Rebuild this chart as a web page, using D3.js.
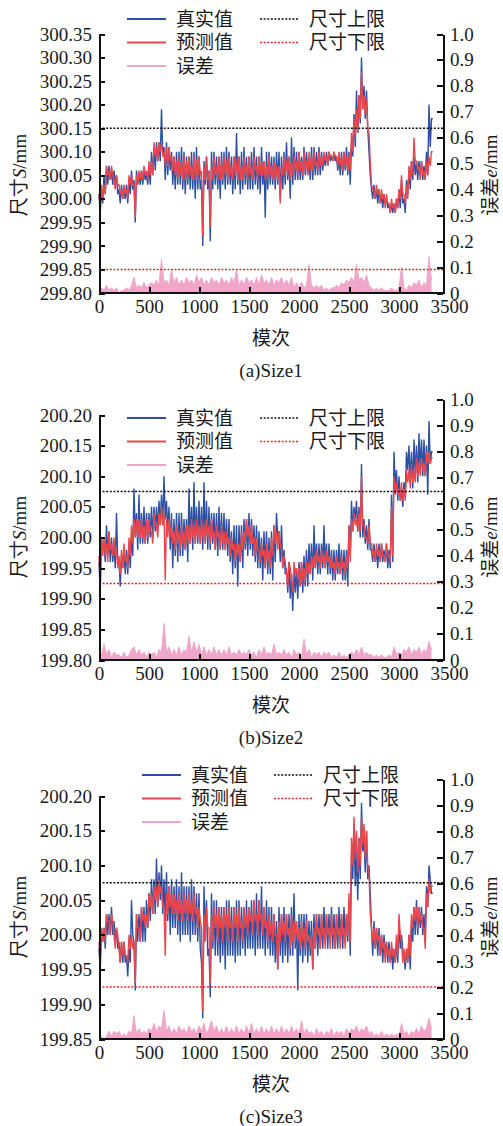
<!DOCTYPE html>
<html lang="zh">
<head>
<meta charset="utf-8">
<title>size prediction</title>
<script src="https://d3js.org/d3.v7.min.js"></script>
<style>
  body { margin: 0; background: #fff; }
  svg text { font-family: "Liberation Serif", "Times New Roman", serif; fill: #1a1a1a; }
  svg .cn { font-family: "Noto Sans CJK SC", sans-serif; }
  .axis path, .axis line { stroke: #111; stroke-width: 2; shape-rendering: crispEdges; }
</style>
</head>
<body>
<svg id="chart"></svg>
<script>
// ---------------- data ----------------
// two readings per 25-mould window: the main one and the "Mid" one (half a window later)
const moldStep = 25;
const xTicks = [0, 500, 1000, 1500, 2000, 2500, 3000, 3500];
const errTicks = [0, 0.1, 0.2, 0.3, 0.4, 0.5, 0.6, 0.7, 0.8, 0.9, 1.0];
const legendNames = ["真实值", "预测值", "误差", "尺寸上限", "尺寸下限"];

// Size1
const s1Ticks = [299.80, 299.85, 299.90, 299.95, 300.00, 300.05, 300.10, 300.15, 300.20, 300.25, 300.30, 300.35];
const s1Upper = 300.15, s1Lower = 299.85;
const s1True = [
  299.97, 300.02, 300.01, 300.07, 300.04, 300.06, 300.03, 300.05, 299.99, 300.03,
  300.00, 300.03, 300.01, 300.06, 299.95, 300.06, 300.03, 300.06, 300.04, 300.05,
  300.03, 300.10, 300.06, 300.12, 300.08, 300.19, 300.04, 300.12, 300.06, 300.10,
  300.02, 300.10, 300.03, 300.11, 300.01, 300.09, 300.02, 300.10, 300.00, 300.11,
  300.02, 299.90, 300.08, 300.02, 299.91, 300.10, 300.03, 300.09, 300.00, 300.10,
  300.02, 300.11, 300.03, 300.09, 300.02, 300.14, 300.01, 300.10, 300.03, 300.09,
  300.02, 300.10, 300.03, 300.09, 300.01, 300.11, 299.96, 300.10, 300.03, 300.09,
  300.02, 300.10, 300.00, 300.09, 300.03, 300.12, 300.00, 300.13, 300.04, 300.10,
  300.04, 300.09, 300.05, 300.10, 300.04, 300.11, 300.05, 300.10, 300.05, 300.10,
  300.07, 300.10, 300.08, 300.09, 300.08, 300.09, 300.05, 300.10, 300.06, 300.11,
  300.03, 300.12, 300.11, 300.23, 300.16, 300.30, 300.17, 300.23, 300.10, 300.00,
  300.03, 299.99, 300.02, 299.98, 300.01, 299.98, 299.97, 299.99, 299.97, 300.00,
  299.98, 300.04, 299.97, 300.01, 300.06, 300.04, 300.09, 300.04, 300.08, 300.04,
  300.07, 300.05, 300.20, 300.17
];
const s1TrueMid = [
  300.01, 299.99, 300.05, 300.03, 300.07, 300.03, 300.06, 300.01, 300.02, 300.00,
  300.02, 299.99, 300.04, 300.02, 300.04, 300.03, 300.05, 300.03, 300.06, 300.03,
  300.07, 300.05, 300.11, 300.08, 300.12, 300.09, 300.11, 300.05, 300.11, 300.03,
  300.09, 300.03, 300.10, 300.02, 300.10, 300.03, 300.09, 300.02, 300.10, 300.02,
  300.09, 300.04, 300.03, 300.09, 300.06, 300.02, 300.10, 300.02, 300.09, 300.03,
  300.10, 300.03, 300.10, 300.01, 300.09, 300.03, 300.09, 300.02, 300.11, 300.02,
  300.09, 300.02, 300.11, 300.02, 300.09, 300.03, 300.08, 300.02, 300.10, 300.03,
  300.09, 300.03, 300.10, 300.02, 300.10, 300.04, 300.09, 300.03, 300.11, 300.04,
  300.10, 300.04, 300.11, 300.05, 300.09, 300.04, 300.11, 300.05, 300.11, 300.06,
  300.09, 300.07, 300.10, 300.08, 300.10, 300.06, 300.09, 300.05, 300.10, 300.05,
  300.10, 300.09, 300.18, 300.14, 300.22, 300.19, 300.24, 300.15, 300.05, 300.02,
  300.00, 300.02, 299.99, 300.01, 299.99, 300.00, 299.99, 299.97, 299.99, 299.98,
  300.02, 299.99, 300.00, 300.04, 300.02, 300.08, 300.05, 300.08, 300.05, 300.08,
  300.04, 300.10, 300.11
];
const s1Pred = [
  299.98, 300.00, 300.03, 300.05, 300.06, 300.05, 300.04, 300.05, 300.01, 300.02,
  300.01, 300.02, 300.03, 300.05, 299.96, 300.05, 300.04, 300.06, 300.05, 300.06,
  300.05, 300.08, 300.09, 300.11, 300.10, 300.12, 300.07, 300.11, 300.08, 300.09,
  300.05, 300.08, 300.05, 300.08, 300.04, 300.08, 300.05, 300.07, 300.04, 300.08,
  300.05, 299.92, 300.07, 300.04, 299.94, 300.07, 300.05, 300.07, 300.04, 300.08,
  300.05, 300.08, 300.05, 300.07, 300.05, 300.08, 300.04, 300.07, 300.05, 300.07,
  300.05, 300.07, 300.06, 300.07, 300.05, 300.08, 300.04, 300.07, 300.05, 300.07,
  300.04, 300.07, 299.99, 300.07, 300.05, 300.08, 300.04, 300.08, 300.06, 300.08,
  300.06, 300.08, 300.06, 300.08, 300.06, 300.09, 300.07, 300.08, 300.07, 300.09,
  300.08, 300.09, 300.09, 300.09, 300.09, 300.09, 300.07, 300.09, 300.07, 300.09,
  300.06, 300.10, 300.13, 300.19, 300.17, 300.27, 300.18, 300.21, 300.14, 300.02,
  300.02, 300.01, 300.02, 300.00, 300.01, 299.99, 299.99, 299.98, 299.99, 300.00,
  300.00, 300.05, 299.99, 300.00, 300.04, 300.05, 300.13, 300.06, 300.07, 300.05,
  300.06, 300.05, 300.09, 300.10
];
const s1PredMid = [
  300.01, 300.03, 300.01, 300.07, 300.04, 300.07, 300.02, 300.03, 300.03, 300.00,
  300.03, 300.00, 300.05, 300.03, 300.03, 300.03, 300.06, 300.04, 300.07, 300.04,
  300.08, 300.05, 300.12, 300.08, 300.12, 300.09, 300.10, 300.07, 300.11, 300.06,
  300.09, 300.04, 300.09, 300.04, 300.09, 300.04, 300.09, 300.04, 300.09, 300.04,
  300.09, 300.06, 300.04, 300.09, 300.06, 300.04, 300.09, 300.04, 300.09, 300.04,
  300.09, 300.04, 300.09, 300.04, 300.09, 300.04, 300.09, 300.04, 300.09, 300.04,
  300.09, 300.04, 300.09, 300.04, 300.09, 300.05, 300.08, 300.04, 300.09, 300.04,
  300.08, 300.04, 300.07, 300.05, 300.09, 300.05, 300.09, 300.05, 300.09, 300.05,
  300.10, 300.05, 300.10, 300.05, 300.10, 300.06, 300.10, 300.06, 300.10, 300.07,
  300.10, 300.07, 300.10, 300.08, 300.10, 300.07, 300.10, 300.06, 300.10, 300.06,
  300.09, 300.14, 300.17, 300.14, 300.22, 300.19, 300.22, 300.15, 300.08, 300.03,
  300.00, 300.03, 299.99, 300.02, 299.98, 300.01, 299.97, 300.00, 299.97, 299.98,
  300.02, 300.01, 300.01, 300.03, 300.07, 300.08, 300.08, 300.08, 300.04, 300.08,
  300.04, 300.08, 300.07
];
const s1Err = [
  0.01, 0.02, 0.01, 0.03, 0.01, 0.02, 0.01, 0.02, 0.00, 0.01,
  0.01, 0.02, 0.01, 0.03, 0.06, 0.02, 0.03, 0.02, 0.04, 0.02,
  0.03, 0.04, 0.03, 0.05, 0.03, 0.13, 0.04, 0.05, 0.03, 0.09,
  0.04, 0.06, 0.03, 0.05, 0.03, 0.06, 0.04, 0.05, 0.03, 0.07,
  0.04, 0.06, 0.03, 0.05, 0.03, 0.06, 0.04, 0.05, 0.03, 0.06,
  0.04, 0.05, 0.03, 0.06, 0.04, 0.09, 0.03, 0.05, 0.03, 0.06,
  0.04, 0.05, 0.03, 0.06, 0.03, 0.07, 0.04, 0.05, 0.03, 0.06,
  0.03, 0.05, 0.04, 0.06, 0.03, 0.05, 0.03, 0.06, 0.02, 0.04,
  0.02, 0.04, 0.02, 0.03, 0.11, 0.03, 0.02, 0.03, 0.02, 0.03,
  0.01, 0.02, 0.01, 0.02, 0.02, 0.03, 0.02, 0.04, 0.03, 0.05,
  0.04, 0.06, 0.04, 0.11, 0.05, 0.06, 0.04, 0.07, 0.03, 0.02,
  0.01, 0.02, 0.01, 0.02, 0.01, 0.01, 0.01, 0.02, 0.01, 0.01,
  0.02, 0.10, 0.02, 0.01, 0.03, 0.02, 0.04, 0.03, 0.05, 0.02,
  0.04, 0.03, 0.14, 0.05
];

// Size2
const s2Ticks = [199.80, 199.85, 199.90, 199.95, 200.00, 200.05, 200.10, 200.15, 200.20];
const s2Upper = 200.075, s2Lower = 199.925;
const s2True = [
  199.91, 199.98, 199.96, 200.02, 199.96, 200.00, 199.95, 200.04, 199.92, 199.97,
  199.94, 199.98, 199.95, 200.00, 200.08, 199.98, 200.07, 199.99, 200.05, 199.99,
  200.04, 200.00, 200.05, 200.01, 200.06, 200.02, 200.10, 200.01, 200.05, 199.95,
  200.03, 199.96, 200.04, 199.97, 200.03, 199.96, 200.08, 199.98, 200.09, 199.99,
  200.06, 199.98, 200.09, 199.98, 200.05, 199.99, 200.04, 199.97, 200.05, 199.98,
  200.04, 199.97, 200.03, 199.94, 200.02, 199.92, 200.02, 199.95, 200.03, 199.97,
  200.04, 199.97, 200.02, 199.95, 200.01, 199.93, 200.01, 199.94, 200.00, 199.93,
  200.02, 200.04, 199.96, 200.02, 199.94, 199.91, 199.96, 199.88, 199.95, 199.90,
  199.96, 199.91, 199.97, 199.92, 199.99, 199.93, 200.02, 199.94, 199.99, 199.95,
  200.02, 199.94, 199.99, 199.93, 199.98, 199.94, 199.99, 199.93, 199.98, 199.92,
  199.97, 200.06, 200.03, 200.06, 200.00, 200.12, 199.99, 200.02, 200.03, 199.96,
  199.99, 199.95, 199.99, 199.96, 199.98, 199.95, 199.98, 199.96, 200.14, 200.06,
  200.10, 200.05, 200.09, 200.11, 200.15, 200.08, 200.16, 200.09, 200.17, 200.10,
  200.16, 200.07, 200.19, 200.14
];
const s2TrueMid = [
  199.96, 200.00, 199.99, 199.97, 200.01, 199.96, 199.99, 199.96, 199.96, 199.95,
  199.98, 199.94, 199.99, 199.97, 200.00, 200.04, 199.99, 200.04, 199.99, 200.04,
  200.00, 200.05, 200.01, 200.05, 200.02, 200.07, 200.03, 200.06, 199.98, 200.04,
  199.97, 200.04, 199.97, 200.04, 199.98, 200.03, 199.99, 200.05, 199.99, 200.05,
  199.99, 200.05, 199.99, 200.06, 199.98, 200.04, 199.98, 200.04, 199.98, 200.04,
  199.98, 200.03, 199.96, 200.01, 199.95, 200.02, 199.96, 200.02, 199.98, 200.03,
  199.98, 200.03, 199.96, 200.02, 199.95, 200.00, 199.95, 200.01, 199.94, 200.01,
  199.96, 200.00, 200.01, 199.95, 199.98, 199.95, 199.90, 199.94, 199.91, 199.95,
  199.92, 199.96, 199.92, 199.98, 199.94, 199.99, 199.95, 199.99, 199.94, 199.99,
  199.95, 199.99, 199.94, 199.98, 199.93, 199.98, 199.94, 199.98, 199.93, 199.98,
  200.02, 200.01, 200.05, 200.01, 200.05, 200.00, 200.03, 199.98, 199.98, 199.98,
  199.96, 199.98, 199.96, 199.99, 199.96, 199.99, 199.95, 200.07, 200.08, 200.11,
  200.06, 200.08, 200.07, 200.14, 200.09, 200.14, 200.10, 200.15, 200.11, 200.16,
  200.10, 200.15, 200.12
];
const s2Pred = [
  199.93, 199.97, 200.00, 199.99, 199.98, 199.99, 199.97, 199.98, 199.94, 199.95,
  199.96, 199.97, 199.97, 199.99, 200.03, 200.00, 200.03, 200.00, 200.02, 200.00,
  200.01, 200.01, 200.02, 200.02, 200.04, 200.02, 199.93, 200.03, 200.03, 199.99,
  200.01, 199.99, 200.01, 199.99, 200.01, 199.99, 200.02, 200.00, 200.02, 200.00,
  200.02, 200.00, 200.02, 200.00, 200.02, 200.00, 200.01, 200.00, 200.01, 199.99,
  200.01, 199.99, 200.00, 199.98, 199.99, 199.97, 199.99, 199.98, 200.01, 200.00,
  200.02, 199.99, 200.00, 199.98, 199.98, 199.97, 199.98, 199.96, 199.98, 199.97,
  199.99, 200.01, 199.99, 199.98, 199.96, 199.94, 199.95, 199.93, 199.94, 199.93,
  199.95, 199.93, 199.95, 199.94, 199.96, 199.95, 199.97, 199.96, 199.97, 199.96,
  199.97, 199.96, 199.97, 199.95, 199.96, 199.95, 199.96, 199.95, 199.96, 199.95,
  199.96, 200.03, 200.02, 200.03, 200.01, 200.10, 200.00, 200.00, 200.02, 199.97,
  199.98, 199.97, 199.98, 199.97, 199.97, 199.97, 199.97, 199.97, 200.10, 200.07,
  200.08, 200.06, 200.08, 200.09, 200.11, 200.09, 200.11, 200.10, 200.12, 200.11,
  200.12, 200.12, 200.14, 200.13
];
const s2PredMid = [
  199.97, 200.00, 199.97, 199.96, 200.01, 199.97, 200.00, 199.95, 199.97, 199.98,
  199.99, 199.95, 200.00, 200.02, 200.00, 200.03, 200.00, 200.03, 199.99, 200.03,
  200.03, 199.99, 200.04, 200.00, 200.02, 200.05, 200.04, 200.00, 200.00, 200.02,
  199.98, 200.02, 199.98, 200.02, 199.98, 200.02, 199.99, 200.03, 199.99, 200.03,
  199.99, 200.03, 199.99, 200.03, 199.99, 200.03, 199.98, 200.02, 199.98, 200.02,
  199.98, 200.01, 199.97, 200.00, 199.96, 199.99, 199.96, 200.01, 199.99, 200.03,
  199.99, 200.02, 199.97, 200.00, 199.96, 199.99, 199.95, 199.99, 199.95, 200.00,
  200.02, 199.98, 200.01, 199.95, 199.97, 199.92, 199.96, 199.91, 199.96, 199.95,
  199.92, 199.96, 199.93, 199.96, 199.94, 199.97, 199.95, 199.98, 199.95, 199.98,
  199.95, 199.98, 199.95, 199.97, 199.94, 199.97, 199.94, 199.97, 199.94, 199.97,
  200.02, 200.01, 200.04, 200.01, 200.04, 200.02, 200.02, 199.99, 199.99, 199.99,
  199.96, 199.99, 199.96, 199.99, 199.96, 199.99, 199.96, 200.05, 200.07, 200.09,
  200.06, 200.09, 200.06, 200.11, 200.08, 200.12, 200.09, 200.13, 200.10, 200.13,
  200.10, 200.14, 200.12
];
const s2Err = [
  0.04, 0.02, 0.06, 0.02, 0.04, 0.01, 0.03, 0.02, 0.02, 0.01,
  0.03, 0.01, 0.02, 0.04, 0.05, 0.02, 0.04, 0.02, 0.03, 0.01,
  0.03, 0.02, 0.03, 0.01, 0.04, 0.03, 0.14, 0.03, 0.05, 0.02,
  0.04, 0.02, 0.05, 0.02, 0.04, 0.03, 0.09, 0.03, 0.07, 0.03,
  0.06, 0.02, 0.05, 0.02, 0.04, 0.02, 0.05, 0.02, 0.04, 0.02,
  0.04, 0.02, 0.05, 0.02, 0.03, 0.02, 0.04, 0.02, 0.03, 0.02,
  0.04, 0.02, 0.03, 0.01, 0.04, 0.02, 0.05, 0.02, 0.03, 0.02,
  0.06, 0.02, 0.03, 0.02, 0.04, 0.02, 0.03, 0.01, 0.04, 0.02,
  0.03, 0.01, 0.08, 0.02, 0.04, 0.01, 0.03, 0.02, 0.03, 0.01,
  0.03, 0.02, 0.03, 0.01, 0.02, 0.01, 0.03, 0.01, 0.02, 0.01,
  0.02, 0.03, 0.02, 0.04, 0.02, 0.05, 0.02, 0.03, 0.02, 0.02,
  0.01, 0.02, 0.01, 0.02, 0.01, 0.01, 0.02, 0.01, 0.05, 0.02,
  0.03, 0.02, 0.04, 0.03, 0.05, 0.02, 0.04, 0.03, 0.05, 0.02,
  0.04, 0.03, 0.07, 0.04
];

// Size3
const s3Ticks = [199.85, 199.90, 199.95, 200.00, 200.05, 200.10, 200.15, 200.20];
const s3Upper = 200.075, s3Lower = 199.925;
const s3True = [
  199.95, 199.99, 199.98, 200.03, 200.00, 200.04, 199.99, 200.01, 199.96, 199.99,
  199.96, 199.94, 199.98, 200.05, 199.92, 200.03, 199.99, 200.04, 199.99, 200.05,
  200.02, 200.08, 200.03, 200.11, 200.05, 200.10, 200.02, 200.09, 200.00, 200.08,
  200.01, 200.08, 199.99, 200.09, 200.00, 200.07, 199.99, 200.08, 200.00, 200.06,
  199.98, 199.88, 200.07, 199.97, 199.91, 200.06, 199.97, 200.05, 199.96, 200.04,
  199.95, 200.05, 199.97, 200.04, 199.96, 200.05, 199.97, 200.04, 199.97, 200.05,
  199.98, 200.05, 199.97, 200.06, 199.98, 200.07, 199.97, 200.05, 199.97, 200.04,
  199.96, 199.95, 200.04, 199.96, 200.04, 199.96, 200.03, 199.97, 200.06, 199.92,
  200.03, 199.96, 200.03, 199.96, 200.02, 199.95, 200.03, 199.97, 200.03, 199.98,
  200.04, 199.98, 200.03, 199.98, 200.03, 199.98, 200.04, 199.98, 200.04, 199.99,
  199.97, 200.08, 200.16, 200.05, 200.14, 200.19, 200.09, 200.15, 200.06, 199.97,
  200.02, 199.97, 200.01, 199.96, 200.00, 199.96, 199.99, 199.95, 199.98, 199.96,
  200.02, 199.98, 199.95, 199.98, 199.95, 200.02, 200.00, 200.05, 200.01, 200.04,
  199.99, 200.07, 200.10, 200.06
];
const s3TrueMid = [
  199.98, 200.01, 200.01, 200.00, 200.03, 200.00, 200.02, 199.98, 199.99, 199.96,
  199.99, 199.97, 199.96, 200.00, 199.99, 199.99, 200.03, 199.99, 200.04, 200.01,
  200.06, 200.03, 200.08, 200.04, 200.09, 200.03, 200.08, 200.02, 200.07, 200.01,
  200.07, 200.00, 200.07, 200.00, 200.07, 200.00, 200.07, 200.00, 200.07, 199.99,
  200.06, 199.96, 200.00, 200.05, 199.98, 199.98, 200.05, 199.97, 200.04, 199.97,
  200.04, 199.97, 200.05, 199.97, 200.04, 199.97, 200.05, 199.98, 200.04, 199.98,
  200.04, 199.98, 200.05, 199.98, 200.05, 199.98, 200.04, 199.98, 200.04, 199.97,
  200.03, 200.02, 199.97, 200.03, 199.97, 200.03, 199.97, 200.04, 199.98, 200.02,
  199.97, 200.03, 199.97, 200.03, 199.97, 200.02, 199.98, 200.03, 199.98, 200.03,
  199.99, 200.03, 199.99, 200.04, 199.98, 200.03, 199.99, 200.03, 199.99, 200.03,
  200.05, 200.12, 200.07, 200.12, 200.08, 200.12, 200.14, 200.08, 200.10, 200.01,
  199.98, 200.01, 199.97, 200.00, 199.97, 199.99, 199.96, 199.98, 199.96, 199.99,
  199.98, 200.00, 199.97, 199.96, 200.00, 199.99, 200.04, 200.00, 200.04, 200.00,
  200.03, 200.04, 200.08
];
const s3Pred = [
  199.96, 199.99, 200.01, 200.02, 200.02, 200.02, 200.00, 200.00, 199.98, 199.97,
  199.97, 199.97, 199.98, 200.00, 199.93, 200.01, 200.01, 200.02, 200.01, 200.03,
  200.04, 200.06, 200.05, 200.07, 200.06, 200.07, 199.97, 200.06, 200.04, 200.06,
  200.03, 200.05, 200.03, 200.05, 200.03, 200.05, 200.03, 200.05, 200.03, 200.04,
  200.02, 199.89, 200.03, 200.01, 199.93, 200.03, 200.01, 200.03, 200.01, 200.03,
  200.01, 200.03, 200.01, 200.02, 200.01, 200.03, 200.01, 200.02, 200.01, 200.03,
  200.02, 200.03, 200.02, 200.03, 200.02, 200.03, 200.01, 200.02, 200.00, 200.02,
  200.00, 199.95, 200.02, 200.00, 200.02, 200.00, 200.01, 199.99, 200.02, 199.99,
  200.01, 199.99, 200.01, 199.99, 200.00, 199.95, 200.01, 200.00, 200.01, 200.00,
  200.01, 200.00, 200.01, 200.00, 200.01, 200.00, 200.01, 200.00, 200.01, 200.00,
  199.99, 200.10, 200.17, 200.09, 200.14, 200.17, 200.11, 200.15, 200.09, 199.99,
  200.01, 199.99, 200.00, 199.98, 199.99, 199.97, 199.98, 199.97, 199.98, 199.97,
  200.03, 199.99, 199.96, 199.98, 199.97, 200.03, 200.02, 200.04, 200.02, 200.03,
  199.98, 200.04, 200.06, 200.07
];
const s3PredMid = [
  199.99, 200.01, 199.99, 200.03, 200.00, 200.03, 199.98, 200.01, 199.96, 199.99,
  199.99, 199.96, 200.00, 199.98, 199.99, 200.03, 199.99, 200.04, 200.03, 200.01,
  200.06, 200.03, 200.07, 200.04, 200.08, 200.04, 200.04, 200.03, 200.07, 200.03,
  200.06, 200.02, 200.06, 200.02, 200.06, 200.02, 200.06, 200.02, 200.06, 200.01,
  200.04, 200.01, 199.99, 200.04, 200.01, 199.99, 200.04, 199.99, 200.04, 199.99,
  200.04, 199.99, 200.04, 199.99, 200.04, 199.99, 200.04, 199.99, 200.04, 200.00,
  200.04, 200.00, 200.05, 200.00, 200.05, 200.00, 200.04, 199.99, 200.03, 199.99,
  200.03, 200.00, 199.99, 200.03, 199.99, 200.03, 199.98, 200.03, 199.99, 200.02,
  199.98, 200.02, 199.98, 200.02, 199.98, 200.00, 199.98, 200.03, 199.98, 200.03,
  199.98, 200.03, 199.98, 200.03, 199.98, 200.03, 199.98, 200.03, 199.98, 200.03,
  200.06, 200.14, 200.11, 200.15, 200.10, 200.13, 200.16, 200.10, 200.03, 200.01,
  199.98, 200.01, 199.97, 200.00, 199.96, 199.99, 199.96, 199.99, 199.96, 200.00,
  200.00, 199.96, 199.98, 199.96, 200.00, 200.01, 200.04, 200.01, 200.04, 200.01,
  200.01, 200.06, 200.08
];
const s3Err = [
  0.00, 0.01, 0.00, 0.01, 0.03, 0.01, 0.03, 0.02, 0.03, 0.01,
  0.02, 0.01, 0.03, 0.02, 0.09, 0.02, 0.04, 0.02, 0.03, 0.02,
  0.04, 0.03, 0.06, 0.03, 0.05, 0.04, 0.11, 0.03, 0.05, 0.02,
  0.04, 0.02, 0.05, 0.03, 0.04, 0.02, 0.05, 0.03, 0.04, 0.02,
  0.05, 0.03, 0.06, 0.02, 0.04, 0.07, 0.03, 0.05, 0.02, 0.04,
  0.02, 0.05, 0.02, 0.04, 0.02, 0.05, 0.02, 0.04, 0.02, 0.05,
  0.02, 0.06, 0.02, 0.04, 0.02, 0.05, 0.02, 0.04, 0.02, 0.05,
  0.02, 0.04, 0.02, 0.05, 0.02, 0.04, 0.02, 0.05, 0.02, 0.04,
  0.02, 0.07, 0.02, 0.04, 0.02, 0.03, 0.01, 0.04, 0.02, 0.03,
  0.01, 0.03, 0.02, 0.04, 0.01, 0.03, 0.02, 0.03, 0.01, 0.04,
  0.02, 0.04, 0.03, 0.05, 0.02, 0.04, 0.03, 0.05, 0.02, 0.03,
  0.01, 0.02, 0.01, 0.03, 0.01, 0.02, 0.01, 0.02, 0.01, 0.02,
  0.01, 0.06, 0.02, 0.03, 0.01, 0.03, 0.02, 0.04, 0.02, 0.05,
  0.03, 0.04, 0.08, 0.04
];

// ---------------- layout ----------------
const blue = "#2c4fa3", red = "#e8474d", pink = "#f0a6c8";
const W = 503, H = 1126;
const axisL = 99, axisR = 443;
const serif = "'Liberation Serif', 'Times New Roman', serif";

// the two readings of each window, drawn high then low so the trace fills its band
function zigzag(main, mid) {
  const out = [];
  main.forEach((v, i) => {
    const w = i < mid.length ? mid[i] : v;
    out.push({ m: i * moldStep, v: Math.max(v, w) });
    out.push({ m: i * moldStep + moldStep / 2, v: Math.min(v, w) });
  });
  return out;
}

const panels = [
  { tv: zigzag(s1True, s1TrueMid), pv: zigzag(s1Pred, s1PredMid), ev: s1Err, ticks: s1Ticks,
    up: s1Upper, lo: s1Lower, cap: "(a)Size1",
    top: 34, bottom: 293, rTop: 34, legY: 19, legX: 127, leg2X: 260, mid: 175 },
  { tv: zigzag(s2True, s2TrueMid), pv: zigzag(s2Pred, s2PredMid), ev: s2Err, ticks: s2Ticks,
    up: s2Upper, lo: s2Lower, cap: "(b)Size2",
    top: 415, bottom: 660, rTop: 399, legY: 418, legX: 127, leg2X: 260, mid: 537 },
  { tv: zigzag(s3True, s3TrueMid), pv: zigzag(s3Pred, s3PredMid), ev: s3Err, ticks: s3Ticks,
    up: s3Upper, lo: s3Lower, cap: "(c)Size3",
    top: 796, bottom: 1039, rTop: 779, legY: 775, legX: 142, leg2X: 274, mid: 917 }
];

const svg = d3.select("#chart").attr("width", W).attr("height", H);
const xScale = d3.scaleLinear().domain([0, 3500]).range([99, 449]);

panels.forEach(p => drawPanel(p));

function drawPanel(p) {
  const g = svg.append("g");
  const yL = d3.scaleLinear().domain([p.ticks[0], p.ticks[p.ticks.length - 1]]).range([p.bottom, p.top]);
  const yR = d3.scaleLinear().domain([0, 1]).range([p.bottom, p.rTop]);
  const xi = (d, i) => xScale(i * moldStep);

  // error (right axis)
  g.append("path")
    .attr("d", d3.area().x(xi).y0(yR(0)).y1(d => yR(d))(p.ev))
    .attr("fill", pink);
  g.append("path")
    .attr("d", d3.line().x(xi).y(d => yR(d))(p.ev))
    .attr("fill", "none").attr("stroke", pink).attr("stroke-width", 1);

  // true & predicted
  const ln = d3.line().x(d => xScale(d.m)).y(d => yL(d.v));
  g.append("path").attr("d", ln(p.tv))
    .attr("fill", "none").attr("stroke", blue).attr("stroke-width", 1.4);
  g.append("path").attr("d", ln(p.pv))
    .attr("fill", "none").attr("stroke", red).attr("stroke-width", 1.4);

  // limits
  [[p.up, "#111"], [p.lo, "#e8262b"]].forEach(([v, c]) => {
    g.append("line")
      .attr("x1", axisL).attr("x2", axisR)
      .attr("y1", yL(v)).attr("y2", yL(v))
      .attr("stroke", c).attr("stroke-width", 1.4).attr("stroke-dasharray", "2,1.6");
  });

  // axes
  const la = g.append("g").attr("class", "axis")
    .attr("transform", `translate(${axisL},0)`)
    .call(d3.axisLeft(yL).tickValues(p.ticks).tickFormat(d3.format(".2f"))
      .tickSizeInner(-6).tickSizeOuter(0).tickPadding(7));
  const ra = g.append("g").attr("class", "axis")
    .attr("transform", `translate(${axisR},0)`)
    .call(d3.axisRight(yR).tickValues(errTicks).tickFormat(d => d === 0 ? "0" : d3.format(".1f")(d))
      .tickSizeInner(-6).tickSizeOuter(0).tickPadding(7));
  const xa = g.append("g").attr("class", "axis")
    .attr("transform", `translate(0,${p.bottom})`)
    .call(d3.axisBottom(xScale).tickValues(xTicks).tickFormat(d3.format("d"))
      .tickSizeInner(-6).tickSizeOuter(0).tickPadding(7));
  xa.select(".domain").remove();
  xa.selectAll(".tick").filter(d => d === 0 || d === 3500).select("line").remove();
  [la, ra, xa].forEach(a => {
    a.attr("font-family", serif);
    a.selectAll("text").style("font-family", serif).style("font-size", "19px").attr("fill", "#1a1a1a");
  });
  g.append("line")
    .attr("x1", axisL).attr("x2", axisR + 1)
    .attr("y1", p.bottom).attr("y2", p.bottom)
    .attr("stroke", "#111").attr("stroke-width", 2);

  // axis titles
  g.append("text").attr("class", "cn")
    .attr("x", 271).attr("y", p.bottom + 52)
    .attr("text-anchor", "middle").style("font-size", "19px")
    .text("模次");
  g.append("text")
    .attr("x", 271).attr("y", p.bottom + 84)
    .attr("text-anchor", "middle").style("font-size", "19px")
    .text(p.cap);

  const lt = g.append("text")
    .attr("transform", `translate(26,${p.mid}) rotate(-90)`)
    .attr("text-anchor", "middle").style("font-size", "19px");
  lt.append("tspan").attr("class", "cn").text("尺寸");
  lt.append("tspan").attr("font-style", "italic").text("S");
  lt.append("tspan").text("/mm");

  const rt = g.append("text")
    .attr("transform", `translate(497,${p.mid}) rotate(-90)`)
    .attr("text-anchor", "middle").style("font-size", "19px");
  rt.append("tspan").attr("class", "cn").text("误差");
  rt.append("tspan").attr("font-style", "italic").text("e");
  rt.append("tspan").text("/mm");

  // legend
  const items = [
    { x: p.legX, row: 0, c: blue, dash: null },
    { x: p.legX, row: 1, c: red, dash: null },
    { x: p.legX, row: 2, c: pink, dash: null },
    { x: p.leg2X, row: 0, c: "#111", dash: "2,1.6" },
    { x: p.leg2X, row: 1, c: "#e8262b", dash: "2,1.6" }
  ];
  items.forEach((it, k) => {
    const y = p.legY + it.row * 23.5;
    const l = g.append("line")
      .attr("x1", it.x).attr("x2", it.x + 39)
      .attr("y1", y).attr("y2", y)
      .attr("stroke", it.c).attr("stroke-width", it.dash ? 1.4 : 1.8);
    if (it.dash) l.attr("stroke-dasharray", it.dash);
    g.append("text").attr("class", "cn")
      .attr("x", it.x + 49).attr("y", y).attr("dy", "0.36em")
      .style("font-size", "19px")
      .text(legendNames[k]);
  });
}
</script>
</body>
</html>
